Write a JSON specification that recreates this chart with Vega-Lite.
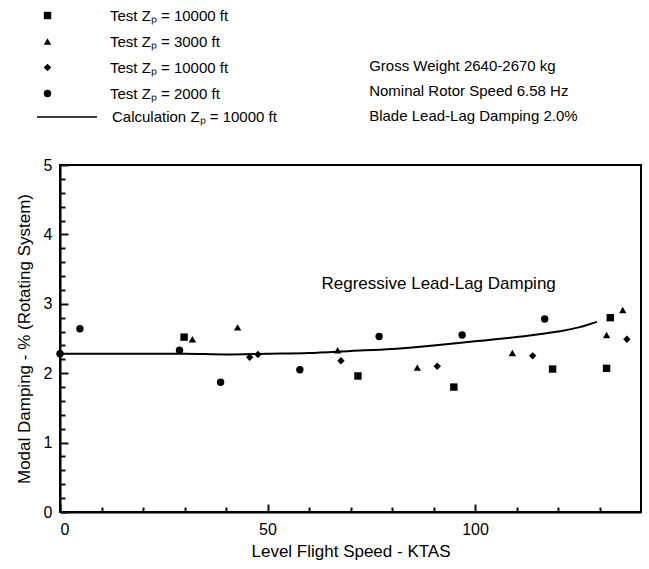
{
  "$schema": "https://vega.github.io/schema/vega-lite/v6.json",
  "width": 581,
  "height": 347,
  "autosize": {"type": "none"},
  "padding": {"left": 60, "top": 165, "right": 8, "bottom": 57},
  "background": "white",
  "config": {
    "view": {"stroke": "black", "strokeWidth": 2},
    "font": "Liberation Sans",
    "axis": {"domainColor": "black", "domainWidth": 2, "grid": false, "labelColor": "black", "titleColor": "black", "labelFont": "Liberation Sans", "titleFont": "Liberation Sans", "titleFontWeight": "normal"}
  },
  "datasets": {
    "points": [
      {"speed": 29.9, "damping": 2.52, "series": "A"},
      {"speed": 71.8, "damping": 1.96, "series": "A"},
      {"speed": 94.9, "damping": 1.80, "series": "A"},
      {"speed": 118.7, "damping": 2.06, "series": "A"},
      {"speed": 131.7, "damping": 2.07, "series": "A"},
      {"speed": 132.6, "damping": 2.80, "series": "A"},
      {"speed": 31.9, "damping": 2.49, "series": "B"},
      {"speed": 42.8, "damping": 2.66, "series": "B"},
      {"speed": 66.9, "damping": 2.33, "series": "B"},
      {"speed": 86.1, "damping": 2.08, "series": "B"},
      {"speed": 109.0, "damping": 2.29, "series": "B"},
      {"speed": 131.7, "damping": 2.55, "series": "B"},
      {"speed": 135.6, "damping": 2.91, "series": "B"},
      {"speed": 45.7, "damping": 2.23, "series": "C"},
      {"speed": 47.7, "damping": 2.27, "series": "C"},
      {"speed": 67.7, "damping": 2.18, "series": "C"},
      {"speed": 90.9, "damping": 2.10, "series": "C"},
      {"speed": 113.9, "damping": 2.25, "series": "C"},
      {"speed": 136.6, "damping": 2.49, "series": "C"},
      {"speed": 0.0, "damping": 2.28, "series": "D"},
      {"speed": 4.8, "damping": 2.64, "series": "D"},
      {"speed": 28.8, "damping": 2.33, "series": "D"},
      {"speed": 38.7, "damping": 1.87, "series": "D"},
      {"speed": 57.8, "damping": 2.05, "series": "D"},
      {"speed": 76.9, "damping": 2.53, "series": "D"},
      {"speed": 96.9, "damping": 2.55, "series": "D"},
      {"speed": 116.8, "damping": 2.78, "series": "D"}
    ],
    "calc": [
      {"speed": 0, "damping": 2.28},
      {"speed": 10, "damping": 2.28},
      {"speed": 20, "damping": 2.28},
      {"speed": 30, "damping": 2.28},
      {"speed": 40, "damping": 2.27},
      {"speed": 50, "damping": 2.28},
      {"speed": 60, "damping": 2.29},
      {"speed": 70, "damping": 2.32},
      {"speed": 80, "damping": 2.35},
      {"speed": 90, "damping": 2.40},
      {"speed": 100, "damping": 2.46},
      {"speed": 110, "damping": 2.52},
      {"speed": 120, "damping": 2.60},
      {"speed": 125, "damping": 2.66},
      {"speed": 129.4, "damping": 2.74}
    ],
    "notes": [
      {"speed": 63, "damping": 3.29, "label": "Regressive Lead-Lag Damping"}
    ],
    "header": [
      {"speed": 74.5, "damping": 6.43, "label": "Gross Weight 2640-2670 kg"},
      {"speed": 74.5, "damping": 6.07, "label": "Nominal Rotor Speed 6.58 Hz"},
      {"speed": 74.5, "damping": 5.71, "label": "Blade Lead-Lag Damping 2.0%"}
    ]
  },
  "resolve": {"scale": {"x": "independent", "y": "independent"}, "axis": {"x": "independent", "y": "independent"}},
  "layer": [
    {
      "data": {"name": "points"},
      "mark": {"type": "point", "filled": true, "opacity": 1, "color": "black", "strokeWidth": 0, "clip": false},
      "encoding": {
        "x": {"field": "speed", "type": "quantitative", "scale": {"domain": [0, 140], "nice": false, "zero": false},
          "axis": {"orient": "bottom", "values": [0, 50, 100], "ticks": false, "labelPadding": 9, "labelFontSize": 16, "title": "Level Flight Speed - KTAS", "titleFontSize": 17, "titlePadding": 6}},
        "y": {"field": "damping", "type": "quantitative", "scale": {"domain": [0, 5], "nice": false, "zero": false},
          "axis": {"orient": "left", "values": [0, 1, 2, 3, 4, 5], "ticks": false, "labelPadding": 8, "labelFontSize": 16, "title": "Modal Damping - % (Rotating System)", "titleFontSize": 17, "titlePadding": 10}},
        "shape": {"field": "series", "type": "nominal",
          "scale": {"domain": ["A", "B", "C", "D"], "range": ["square", "triangle-up", "diamond", "circle"]},
          "legend": {"orient": "none", "legendX": -20, "legendY": -157, "title": null, "padding": 0, "labelFontSize": 15, "labelFont": "Liberation Sans", "labelColor": "black", "labelOffset": 55, "rowPadding": 10, "symbolFillColor": "black", "symbolStrokeWidth": 0,
            "labelExpr": "datum.value == 'B' ? 'Test Zₚ = 3000 ft' : datum.value == 'D' ? 'Test Zₚ = 2000 ft' : 'Test Zₚ = 10000 ft'"}},
        "size": {"field": "series", "type": "nominal",
          "scale": {"domain": ["A", "B", "C", "D"], "range": [55, 55, 70, 90]}}
      }
    },
    {
      "data": {"name": "calc"},
      "mark": {"type": "line", "color": "black", "strokeWidth": 2, "interpolate": "monotone", "clip": false},
      "encoding": {
        "x": {"field": "speed", "type": "quantitative", "scale": {"domain": [0, 140], "nice": false, "zero": false},
          "axis": {"orient": "bottom", "values": [10, 20, 30, 40, 60, 70, 80, 90, 110, 120, 130], "tickSize": -5, "tickWidth": 2, "tickColor": "#111111", "labels": false, "domain": false, "title": null}},
        "y": {"field": "damping", "type": "quantitative", "scale": {"domain": [0, 5], "nice": false, "zero": false},
          "axis": {"orient": "left", "values": [0.2, 0.4, 0.6, 0.8, 1.2, 1.4, 1.6, 1.8, 2.2, 2.4, 2.6, 2.8, 3.2, 3.4, 3.6, 3.8, 4.2, 4.4, 4.6, 4.8], "tickSize": -5, "tickWidth": 2, "tickColor": "#111111", "labels": false, "domain": false, "title": null}},
        "color": {"datum": "Calculation Zₚ = 10000 ft", "scale": {"range": ["black"]},
          "legend": {"orient": "none", "legendX": -24, "legendY": -79, "title": null, "padding": 0, "symbolType": "stroke", "symbolSize": 3600, "symbolStrokeWidth": 1.5, "symbolStrokeColor": "black", "labelFontSize": 15, "labelFont": "Liberation Sans", "labelColor": "black", "labelOffset": 14, "labelLimit": 400}}
      }
    },
    {
      "data": {"name": "notes"},
      "mark": {"type": "text", "align": "left", "baseline": "middle", "fontSize": 17, "font": "Liberation Sans", "color": "black", "clip": false},
      "encoding": {
        "x": {"field": "speed", "type": "quantitative", "scale": {"domain": [0, 140], "nice": false, "zero": false},
          "axis": {"orient": "bottom", "values": [0, 50, 100], "tickSize": -8, "tickWidth": 2, "tickColor": "#111111", "labels": false, "domain": false, "title": null}},
        "y": {"field": "damping", "type": "quantitative", "scale": {"domain": [0, 5], "nice": false, "zero": false},
          "axis": {"orient": "left", "values": [0, 1, 2, 3, 4, 5], "tickSize": -8, "tickWidth": 2, "tickColor": "#111111", "labels": false, "domain": false, "title": null}},
        "text": {"field": "label"}
      }
    },
    {
      "data": {"name": "header"},
      "mark": {"type": "text", "align": "left", "baseline": "middle", "fontSize": 15, "font": "Liberation Sans", "color": "black", "clip": false},
      "encoding": {
        "x": {"field": "speed", "type": "quantitative", "scale": {"domain": [0, 140], "nice": false, "zero": false}, "axis": null},
        "y": {"field": "damping", "type": "quantitative", "scale": {"domain": [0, 5], "nice": false, "zero": false}, "axis": null},
        "text": {"field": "label"}
      }
    }
  ]
}
